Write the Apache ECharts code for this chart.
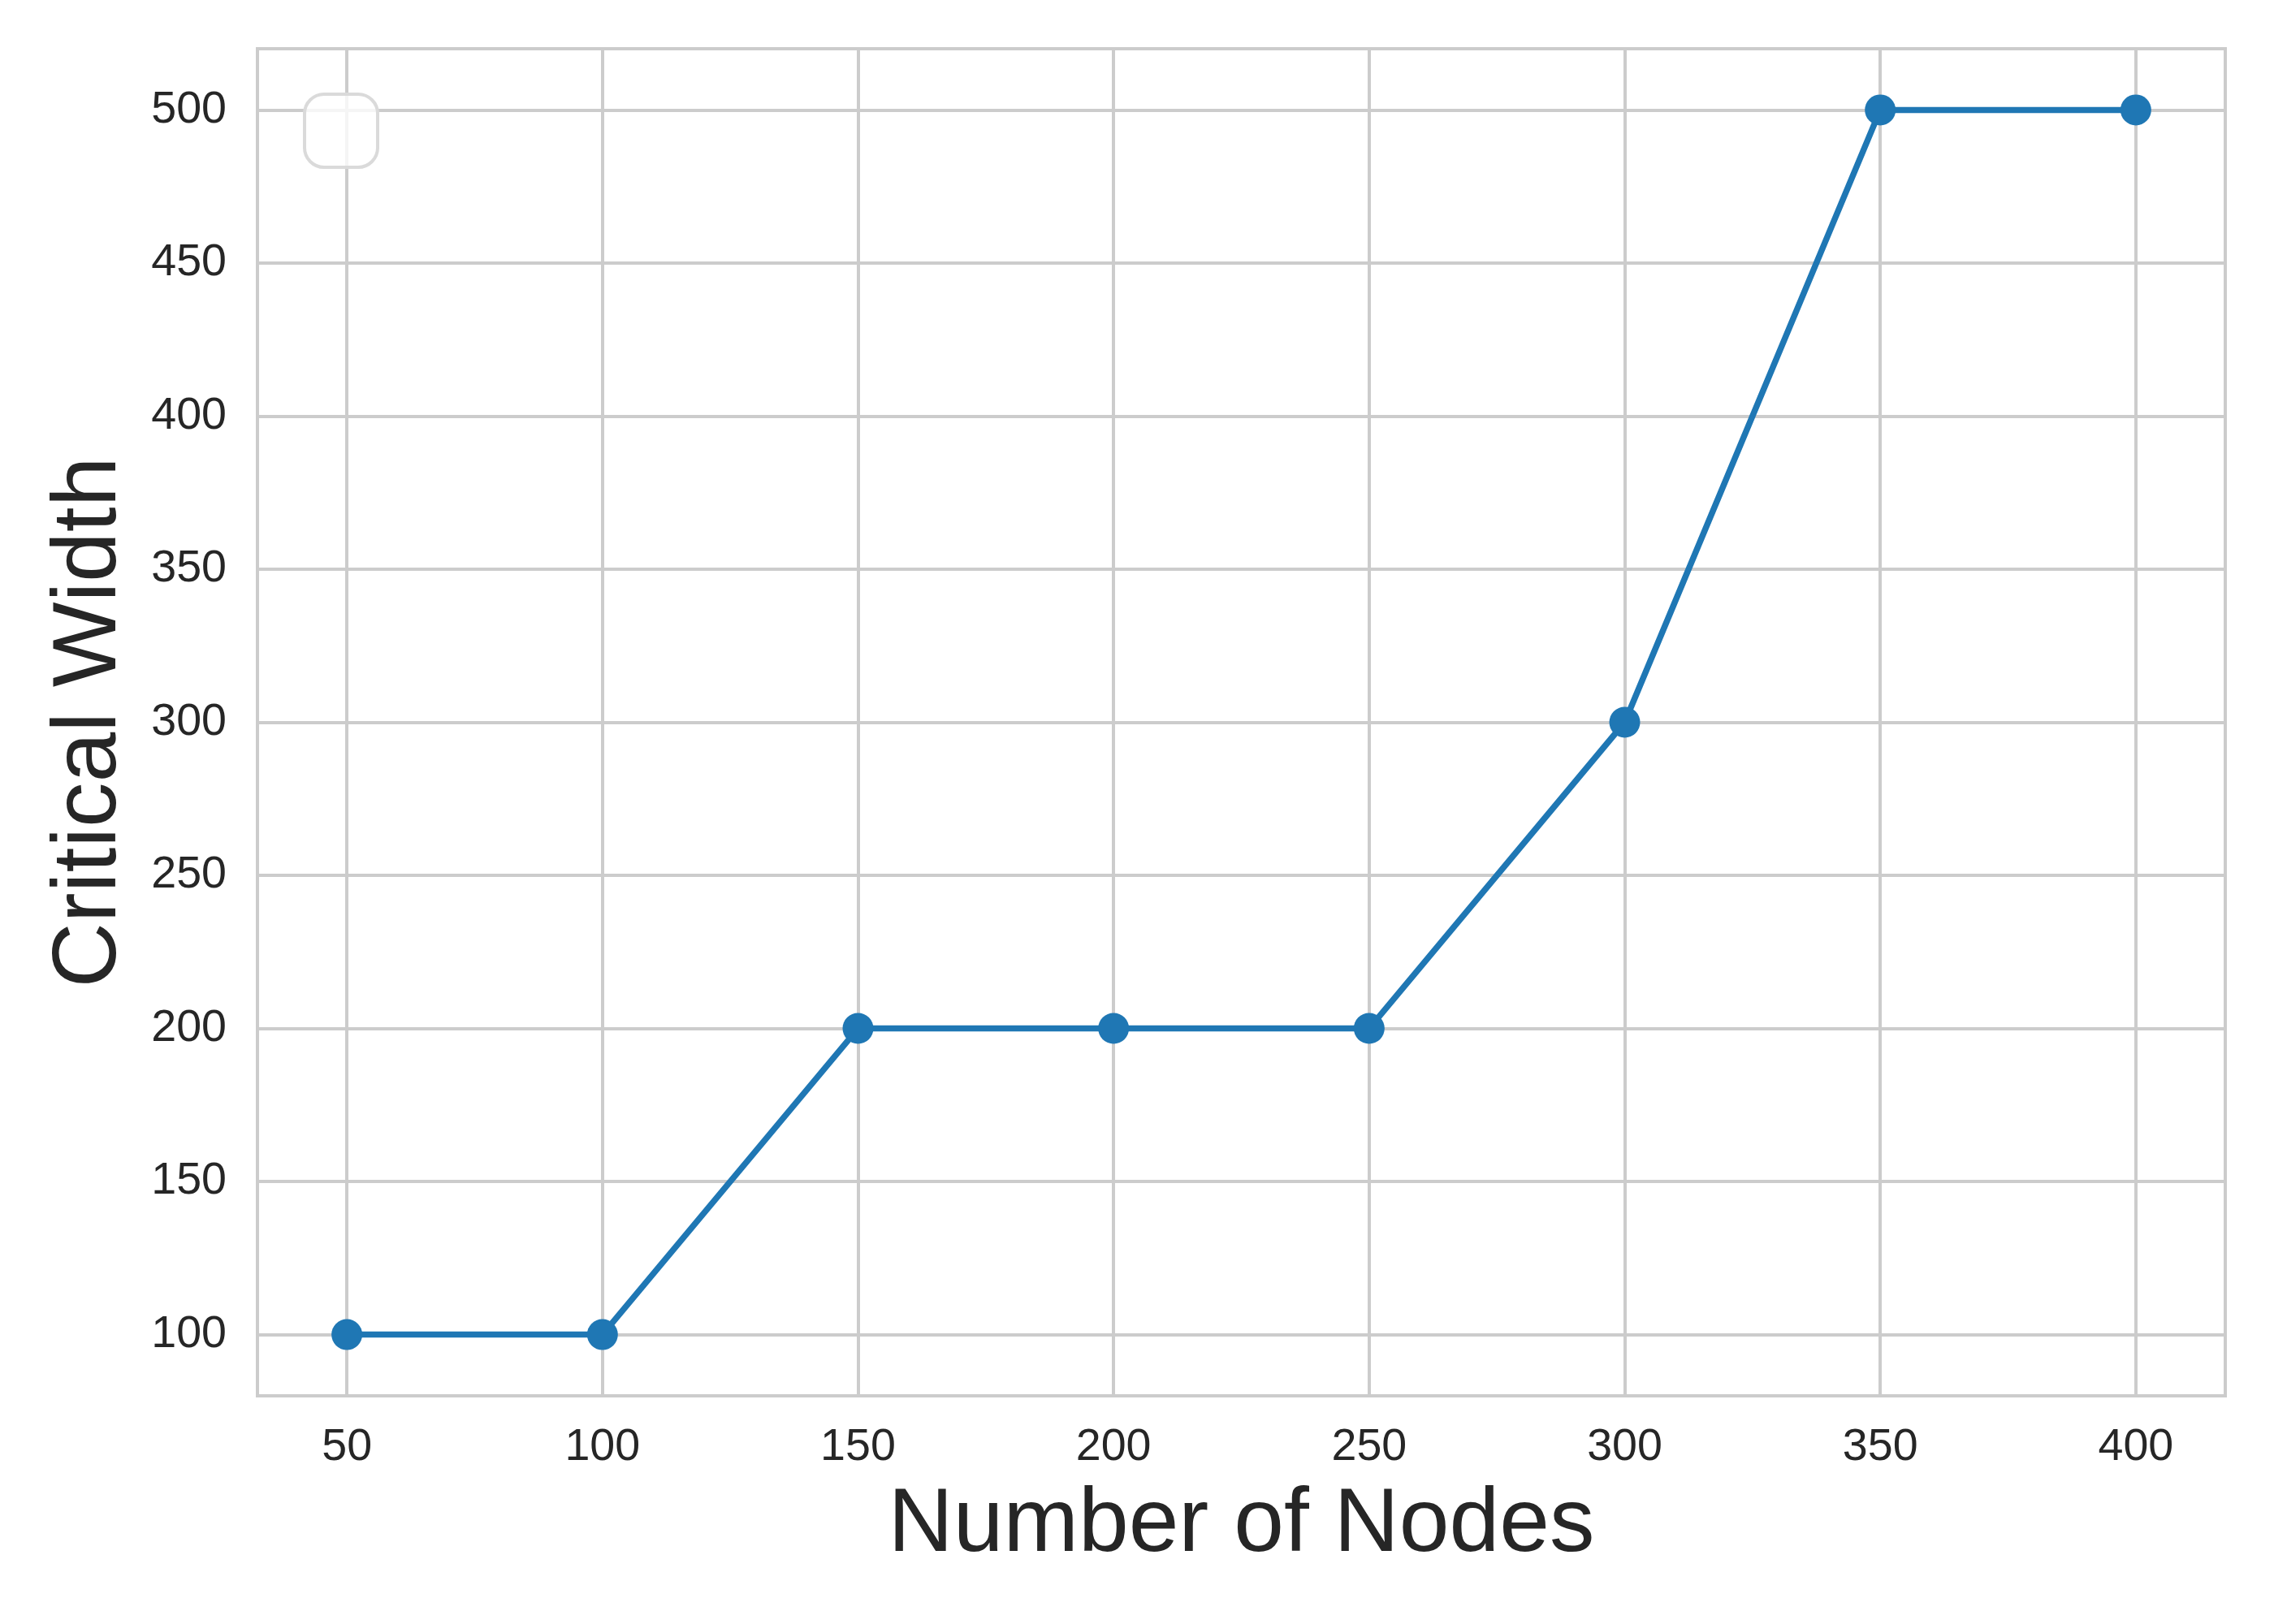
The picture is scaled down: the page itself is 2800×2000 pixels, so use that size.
<!DOCTYPE html>
<html>
<head>
<meta charset="utf-8">
<script src="https://cdn.jsdelivr.net/npm/echarts@6/dist/echarts.min.js"></script>
<style>html,body{margin:0;padding:0;background:#fff}#c{width:2800px;height:2000px}</style>
</head>
<body>
<div id="c"></div>
<script>
const nodes = [50, 100, 150, 200, 250, 300, 350, 400];
const criticalWidth = [100, 100, 200, 200, 200, 300, 500, 500];
const xTicks = [50, 100, 150, 200, 250, 300, 350, 400];
const yTicks = [100, 150, 200, 250, 300, 350, 400, 450, 500];

const chart = echarts.init(document.getElementById('c'), null, {renderer: 'canvas'});
const font = 'Liberation Sans, Arial, sans-serif';
const gridColor = '#cccccc';
chart.setOption({
  animation: false,
  backgroundColor: '#ffffff',
  grid: {left: 317, right: 60, top: 60, bottom: 281, show: true,
         borderColor: gridColor, borderWidth: 4, backgroundColor: 'transparent'},
  xAxis: {
    type: 'value', min: 32.5, max: 417.5, minInterval: 50, maxInterval: 50, splitNumber: 8,
    name: 'Number of Nodes', nameLocation: 'middle', nameGap: 105,
    nameTextStyle: {fontFamily: font, fontSize: 111, color: '#262626'},
    axisLine: {show: false}, axisTick: {show: false},
    axisLabel: {fontFamily: font, fontSize: 55.6, color: '#262626', margin: 36,
      formatter: v => xTicks.includes(v) ? String(v) : ''},
    splitLine: {show: true, lineStyle: {color: gridColor, width: 4}}
  },
  yAxis: {
    type: 'value', min: 80, max: 520, minInterval: 50, maxInterval: 50, splitNumber: 9,
    name: 'Critical Width', nameLocation: 'middle', nameGap: 150,
    nameTextStyle: {fontFamily: font, fontSize: 111, color: '#262626'},
    axisLine: {show: false}, axisTick: {show: false},
    axisLabel: {fontFamily: font, fontSize: 55.6, color: '#262626', margin: 38,
      formatter: v => yTicks.includes(v) ? String(v) : ''},
    splitLine: {show: true, lineStyle: {color: gridColor, width: 4}}
  },
  graphic: [{
    type: 'rect', left: 373, top: 114, z: 100,
    shape: {width: 90, height: 90, r: 24},
    style: {fill: 'rgba(255,255,255,0.8)', stroke: '#dadada', lineWidth: 4}
  }],
  series: [{
    type: 'line',
    data: nodes.map((n, i) => [n, criticalWidth[i]]),
    symbol: 'circle', symbolSize: 38, showAllSymbol: true,
    lineStyle: {color: '#1f77b4', width: 7.5},
    itemStyle: {color: '#1f77b4', borderWidth: 0}
  }]
});
</script>
</body>
</html>
